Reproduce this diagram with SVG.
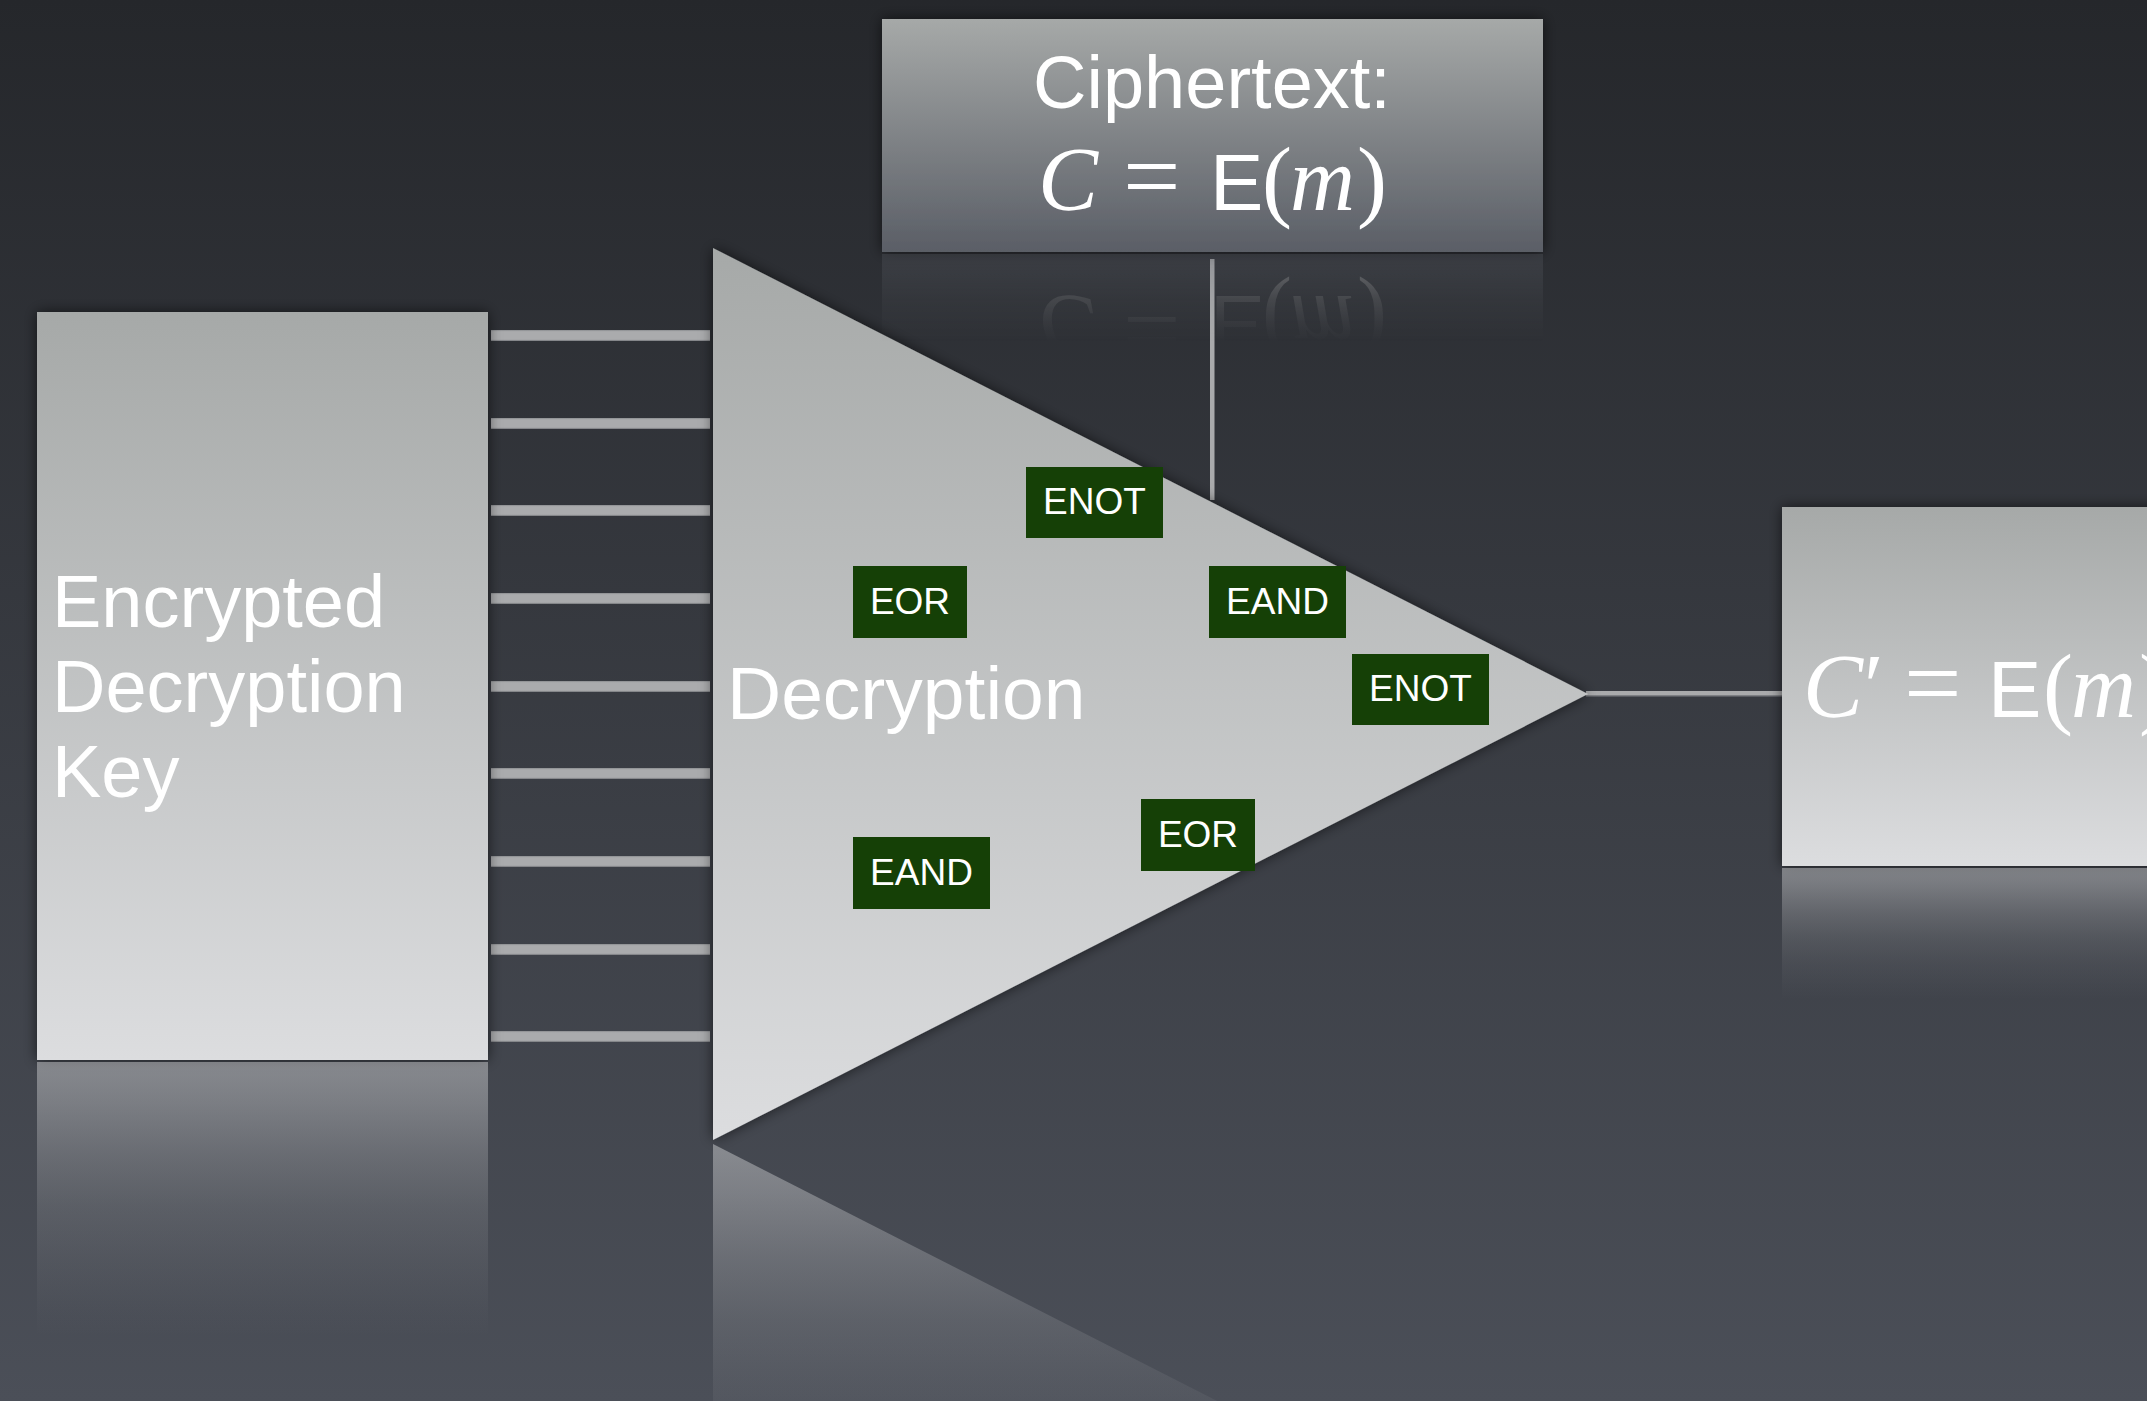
<svg xmlns="http://www.w3.org/2000/svg" xmlns:xlink="http://www.w3.org/1999/xlink" width="2147" height="1401" viewBox="0 0 2147 1401">
  <defs>
    <linearGradient id="bg" x1="0" y1="0" x2="0" y2="1">
      <stop offset="0" stop-color="#25272b"/>
      <stop offset="1" stop-color="#4b4f58"/>
    </linearGradient>
    <linearGradient id="gLight" x1="0" y1="0" x2="0" y2="1">
      <stop offset="0" stop-color="#a6a9a8"/>
      <stop offset="1" stop-color="#dcdddf"/>
    </linearGradient>
    <linearGradient id="gDark" x1="0" y1="0" x2="0" y2="1">
      <stop offset="0" stop-color="#a6a9a8"/>
      <stop offset="1" stop-color="#5a5e66"/>
    </linearGradient>
    <linearGradient id="gBar" x1="0" y1="0" x2="0" y2="1">
      <stop offset="0" stop-color="#8a8c8f"/>
      <stop offset="0.15" stop-color="#aaabad"/>
      <stop offset="0.85" stop-color="#aaabad"/>
      <stop offset="1" stop-color="#75777b"/>
    </linearGradient>
    <linearGradient id="rLeft" gradientUnits="userSpaceOnUse" x1="0" y1="1062" x2="0" y2="1337">
      <stop offset="0" stop-color="#dcdddf" stop-opacity="0.45"/>
      <stop offset="0.15" stop-color="#dadbdd" stop-opacity="0.37"/>
      <stop offset="0.34" stop-color="#d6d7d9" stop-opacity="0.25"/>
      <stop offset="0.53" stop-color="#d2d4d5" stop-opacity="0.15"/>
      <stop offset="0.72" stop-color="#cfd0d2" stop-opacity="0.08"/>
      <stop offset="0.91" stop-color="#cbcdce" stop-opacity="0.02"/>
      <stop offset="1" stop-color="#cbcdce" stop-opacity="0"/>
    </linearGradient>
    <linearGradient id="rRight" gradientUnits="userSpaceOnUse" x1="0" y1="868" x2="0" y2="1000">
      <stop offset="0" stop-color="#dcdddf" stop-opacity="0.44"/>
      <stop offset="0.15" stop-color="#dadbdd" stop-opacity="0.36"/>
      <stop offset="0.34" stop-color="#d6d7d9" stop-opacity="0.24"/>
      <stop offset="0.53" stop-color="#d2d4d5" stop-opacity="0.14"/>
      <stop offset="0.72" stop-color="#cfd0d2" stop-opacity="0.07"/>
      <stop offset="0.91" stop-color="#cbcdce" stop-opacity="0.02"/>
      <stop offset="1" stop-color="#cbcdce" stop-opacity="0"/>
    </linearGradient>
    <linearGradient id="rTri" gradientUnits="userSpaceOnUse" x1="0" y1="1144" x2="0" y2="1474">
      <stop offset="0" stop-color="#dcdddf" stop-opacity="0.45"/>
      <stop offset="0.15" stop-color="#dadbdd" stop-opacity="0.37"/>
      <stop offset="0.34" stop-color="#d6d7d9" stop-opacity="0.25"/>
      <stop offset="0.53" stop-color="#d2d4d5" stop-opacity="0.15"/>
      <stop offset="0.72" stop-color="#cfd0d2" stop-opacity="0.08"/>
      <stop offset="0.91" stop-color="#cbcdce" stop-opacity="0.02"/>
      <stop offset="1" stop-color="#cbcdce" stop-opacity="0"/>
    </linearGradient>
    <linearGradient id="rCipherBox" gradientUnits="userSpaceOnUse" x1="0" y1="254" x2="0" y2="487">
      <stop offset="0" stop-color="#5a5e66"/>
      <stop offset="1" stop-color="#a6a9a8"/>
    </linearGradient>
    <linearGradient id="mCipherGrad" gradientUnits="userSpaceOnUse" x1="0" y1="254" x2="0" y2="342">
      <stop offset="0" stop-color="#fff" stop-opacity="0.32"/>
      <stop offset="0.2" stop-color="#fff" stop-opacity="0.24"/>
      <stop offset="0.5" stop-color="#fff" stop-opacity="0.12"/>
      <stop offset="0.8" stop-color="#fff" stop-opacity="0.04"/>
      <stop offset="1" stop-color="#fff" stop-opacity="0"/>
    </linearGradient>
    <mask id="mCipher" maskUnits="userSpaceOnUse" x="0" y="0" width="2147" height="1401">
      <rect x="882" y="254" width="661" height="90" fill="url(#mCipherGrad)"/>
    </mask>
    <filter id="shadow" x="-10%" y="-10%" width="120%" height="120%">
      <feDropShadow dx="0" dy="0" stdDeviation="7" flood-color="#000" flood-opacity="0.6"/>
    </filter>
    <style>
      .sans { font-family: "Liberation Sans", Arial, sans-serif; fill: #ffffff; }
      .serif { font-family: "Liberation Serif", "Times New Roman", serif; fill: #ffffff; }
      .it { font-style: italic; }
      .eq { font-size: 102px; }
      .gate rect { fill: #154006; }
      .gate text { font-family: "Liberation Sans", Arial, sans-serif; font-size: 37px; fill: #ffffff; text-anchor: middle; }
      .bar { fill: url(#gBar); }
      .wire { fill: #a9aaac; }
    </style>
  </defs>

  <rect x="0" y="0" width="2147" height="1401" fill="url(#bg)"/>

  <g id="connectors">
    <rect class="bar" x="491" y="330" width="219" height="11"/>
    <rect class="bar" x="491" y="418" width="219" height="11"/>
    <rect class="bar" x="491" y="505" width="219" height="11"/>
    <rect class="bar" x="491" y="593" width="219" height="11"/>
    <rect class="bar" x="491" y="681" width="219" height="11"/>
    <rect class="bar" x="491" y="768" width="219" height="11"/>
    <rect class="bar" x="491" y="856" width="219" height="11"/>
    <rect class="bar" x="491" y="944" width="219" height="11"/>
    <rect class="bar" x="491" y="1031" width="219" height="11"/>
    <rect class="wire" x="1210" y="259" width="4.5" height="241"/>
    <rect class="wire" x="1586" y="691" width="196" height="5"/>
    <rect x="1586" y="695" width="196" height="1.5" fill="#7d7f83"/>
  </g>

  <g id="node-key">
    <rect x="37" y="312" width="451" height="748" fill="url(#gLight)" filter="url(#shadow)"/>
    <text class="sans" font-size="74">
      <tspan x="52" y="627">Encrypted</tspan>
      <tspan x="52" y="712">Decryption</tspan>
      <tspan x="52" y="797">Key</tspan>
    </text>
  </g>

  <g id="node-decryption">
    <polygon points="713,248 1588,694 713,1140" fill="url(#gLight)" filter="url(#shadow)"/>
    <text class="sans" x="727" y="719" font-size="75">Decryption</text>
  </g>

  <g id="node-ciphertext">
    <rect x="882" y="19" width="661" height="233" fill="url(#gDark)" filter="url(#shadow)"/>
    <text class="sans" x="1212" y="108" font-size="74" text-anchor="middle">Ciphertext:</text>
    <text id="cipherFormula" y="210" font-size="90"><tspan class="serif it" x="1038">C</tspan><tspan class="serif eq" x="1123">=</tspan><tspan class="sans" x="1210" font-size="80">E</tspan><tspan class="serif" x="1262">(</tspan><tspan class="serif it" x="1290">m</tspan><tspan class="serif" x="1357">)</tspan></text>
  </g>

  <g id="node-output">
    <rect x="1782" y="507" width="400" height="359" fill="url(#gLight)" filter="url(#shadow)"/>
    <text y="717" font-size="90"><tspan class="serif it" x="1803">C</tspan><tspan class="serif" x="1864">′</tspan><tspan class="serif eq" x="1904">=</tspan><tspan class="sans" x="1988" font-size="80">E</tspan><tspan class="serif" x="2043">(</tspan><tspan class="serif it" x="2071">m</tspan><tspan class="serif" x="2139">)</tspan></text>
  </g>

  <g id="gate-enot-1" class="gate">
    <rect x="1026" y="467" width="137" height="71"/>
    <text x="1094.5" y="514">ENOT</text>
  </g>
  <g id="gate-eor-1" class="gate">
    <rect x="853" y="566" width="114" height="72"/>
    <text x="910" y="614">EOR</text>
  </g>
  <g id="gate-eand-1" class="gate">
    <rect x="1209" y="566" width="137" height="72"/>
    <text x="1277.5" y="614">EAND</text>
  </g>
  <g id="gate-enot-2" class="gate">
    <rect x="1352" y="654" width="137" height="71"/>
    <text x="1420.5" y="701">ENOT</text>
  </g>
  <g id="gate-eor-2" class="gate">
    <rect x="1141" y="799" width="114" height="72"/>
    <text x="1198" y="847">EOR</text>
  </g>
  <g id="gate-eand-2" class="gate">
    <rect x="853" y="837" width="137" height="72"/>
    <text x="921.5" y="885">EAND</text>
  </g>

  <g id="reflections">
    <rect x="37" y="1062" width="451" height="339" fill="url(#rLeft)"/>
    <rect x="1782" y="868" width="400" height="200" fill="url(#rRight)"/>
    <polygon points="713,1144 1588,1590 713,2036" fill="url(#rTri)"/>
    <g mask="url(#mCipher)">
      <rect x="882" y="254" width="661" height="233" fill="url(#rCipherBox)"/>
      <use xlink:href="#cipherFormula" href="#cipherFormula" transform="matrix(1 0 0 -1 0 506)"/>
    </g>
  </g>
</svg>
